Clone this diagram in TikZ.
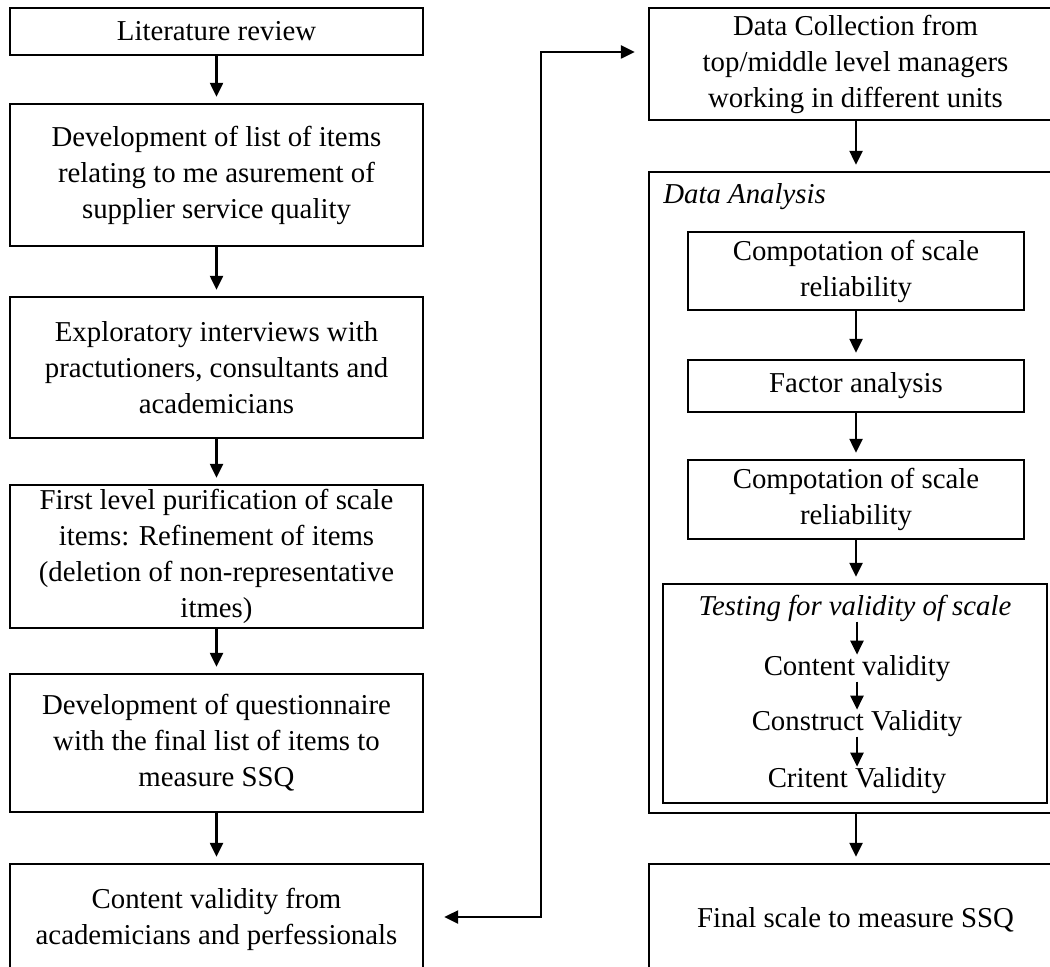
\documentclass[tikz,border=0pt]{standalone}
\usepackage{fontspec}
\setmainfont{Liberation Serif}
\usetikzlibrary{arrows.meta}
\newcommand\diagfont{\fontsize{16.4}{20.5}\selectfont}
\def\px{0.02cm}
\tikzset{
  stepbox/.style={draw, line width=1.4pt, align=center, inner sep=0pt, font=\diagfont},
  plaintext/.style={inner sep=0pt, font=\diagfont},
  flowarrow/.style={line width=1.4pt, -{Triangle[length=0.28cm,width=0.26cm]}, shorten >=0.12cm},
  smallarrow/.style={line width=1.4pt, -{Triangle[length=0.28cm,width=0.26cm]}},
}
\begin{document}
\begin{tikzpicture}[x=0.02cm, y=-0.02cm]
\clip (0,0) rectangle (1050,966);
% left column
\node[stepbox, minimum width=413*\px, minimum height=47*\px] (lit) at (216.5,31.5) {Literature review};
\node[stepbox, minimum width=413*\px, minimum height=142*\px] (dev) at (216.5,175) {Development of list of items\\relating to me asurement of\\supplier service quality};
\node[stepbox, minimum width=413*\px, minimum height=141*\px] (expl) at (216.5,367.5) {Exploratory interviews with\\practutioners, consultants and\\academicians};
\node[stepbox, minimum width=413*\px, minimum height=143*\px] (pur) at (216.5,556.5) {First level purification of scale\\items: Refinement of items\\(deletion of non-representative\\itmes)};
\node[stepbox, minimum width=413*\px, minimum height=138*\px] (ques) at (216.5,743) {Development of questionnaire\\with the final list of items to\\measure SSQ};
\node[stepbox, minimum width=413*\px, minimum height=111*\px] (cval) at (216.5,919.5) {Content validity from\\academicians and perfessionals};
% right column
\node[stepbox, minimum width=413*\px, minimum height=112*\px] (dc) at (855.5,64) {Data Collection from\\top/middle level managers\\working in different units};
\node[stepbox, minimum width=413*\px, minimum height=641*\px] (da) at (855.5,492.5) {};
\node[plaintext, anchor=base west, font=\diagfont\itshape] (dalabel) at (663,203) {Data Analysis};
\node[stepbox, minimum width=336*\px, minimum height=78*\px] (cr1) at (856,271) {Compotation of scale\\reliability};
\node[stepbox, minimum width=336*\px, minimum height=52*\px] (fa) at (856,386) {Factor analysis};
\node[stepbox, minimum width=336*\px, minimum height=79*\px] (cr2) at (856,499.5) {Compotation of scale\\reliability};
\node[stepbox, minimum width=384*\px, minimum height=219*\px] (tv) at (855,693.5) {};
\node[plaintext, anchor=base, font=\diagfont\itshape] (t0) at (855,615) {Testing for validity of scale};
\node[plaintext, anchor=base] (t1) at (857,675) {Content validity};
\node[plaintext, anchor=base] (t2) at (857,730) {Construct Validity};
\node[plaintext, anchor=base] (t3) at (857,787) {Critent Validity};
\node[stepbox, minimum width=413*\px, minimum height=111*\px] (fin) at (855.5,919.5) {Final scale to measure SSQ};
% arrows left
\draw[flowarrow] (lit) -- (dev);
\draw[flowarrow] (dev) -- (expl);
\draw[flowarrow] (expl) -- (pur);
\draw[flowarrow] (pur) -- (ques);
\draw[flowarrow] (ques) -- (cval);
% arrows right
\draw[flowarrow] (dc.south -| cr1) -- (da.north -| cr1);
\draw[flowarrow] (cr1) -- (fa);
\draw[flowarrow] (fa) -- (cr2);
\draw[flowarrow] (cr2.south) -- (tv.north -| cr2);
\draw[smallarrow] (t0.south -| t1) -- (t1.north);
\draw[smallarrow] (t1.south) -- (t2.north);
\draw[smallarrow] (t2.south) -- (t3.north);
\draw[flowarrow] (da.south -| cr1) -- (fin.north -| cr1);
% long connector
\coordinate (ctop) at (541,52);
\coordinate (cbot) at (541,917);
\draw[line width=1.4pt, {Triangle[length=0.28cm,width=0.26cm]}-{Triangle[length=0.28cm,width=0.26cm]}, shorten <=20*\px, shorten >=13*\px]
  (cval.east |- cbot) -- (cbot) -- (ctop) -- (dc.west |- ctop);
\end{tikzpicture}
\end{document}
